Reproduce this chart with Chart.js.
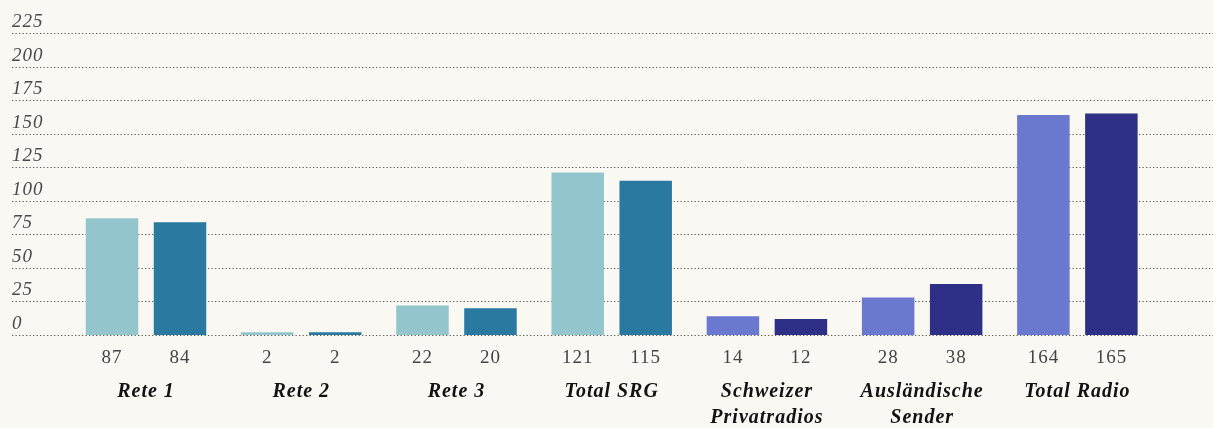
<!doctype html>
<html lang="de">
<head>
<meta charset="utf-8">
<title>Radio – Reichweiten</title>
<script src="https://cdn.jsdelivr.net/npm/chart.js"></script>
<style>
  html, body { margin: 0; padding: 0; background: #f9f8f3; }
  #wrap { width: 1213px; height: 428px; }
</style>
</head>
<body>
<div id="wrap"><canvas id="chart"></canvas></div>
<script>
  // Kategorien und Werte
  const categories = ['Rete 1', 'Rete 2', 'Rete 3', 'Total SRG', ['Schweizer', 'Privatradios'], ['Ausländische', 'Sender'], 'Total Radio'];
  const firstValues = [87, 2, 22, 121, 14, 28, 164];
  const secondValues = [84, 2, 20, 115, 12, 38, 165];
  const yTicks = [0, 25, 50, 75, 100, 125, 150, 175, 200, 225];

  const firstColors = ['#93c5cc', '#93c5cc', '#93c5cc', '#93c5cc', '#6b78cf', '#6b78cf', '#6b78cf'];
  const secondColors = ['#2a79a0', '#2a79a0', '#2a79a0', '#2a79a0', '#2e2f86', '#2e2f86', '#2e2f86'];

  const serif = '"Liberation Serif", "DejaVu Serif", serif';

  // dotted lines at every y tick, running across the whole width
  const dottedGrid = {
    id: 'dottedGrid',
    beforeDraw(chart) {
      chart.ctx.letterSpacing = '1px';
    },
    beforeDatasetsDraw(chart) {
      const ctx = chart.ctx;
      const y = chart.scales.y;
      ctx.save();
      ctx.strokeStyle = '#5c5c5c';
      ctx.lineWidth = 1.2;
      ctx.setLineDash([1.3, 2.2]);
      y.ticks.forEach(t => {
        const py = Math.round(y.getPixelForValue(t.value)) + 0.5;
        ctx.beginPath();
        ctx.moveTo(12, py);
        ctx.lineTo(chart.width, py);
        ctx.stroke();
      });
      ctx.restore();
    }
  };

  // the number under each bar
  const valueLabels = {
    id: 'valueLabels',
    afterDatasetsDraw(chart) {
      const ctx = chart.ctx;
      ctx.save();
      ctx.font = '19px ' + serif;
      ctx.fillStyle = '#444';
      ctx.textAlign = 'center';
      ctx.textBaseline = 'middle';
      chart.data.datasets.forEach((ds, i) => {
        chart.getDatasetMeta(i).data.forEach((bar, j) => {
          ctx.fillText(String(ds.data[j]), bar.x, chart.chartArea.bottom + 23);
        });
      });
      ctx.restore();
    }
  };

  new Chart(document.getElementById('chart'), {
    type: 'bar',
    data: {
      labels: categories,
      datasets: [
        { data: firstValues, backgroundColor: firstColors },
        { data: secondValues, backgroundColor: secondColors }
      ]
    },
    options: {
      responsive: true,
      maintainAspectRatio: false,
      animation: false,
      categoryPercentage: 0.876,
      barPercentage: 0.772,
      layout: { padding: { top: 33, left: 12, right: 58, bottom: 0 } },
      plugins: { legend: { display: false }, tooltip: { enabled: false } },
      scales: {
        x: {
          grid: { display: false, drawTicks: false },
          border: { display: false },
          afterFit: scale => { scale.height = 93; },
          ticks: {
            padding: 44,
            color: '#121212',
            maxRotation: 0,
            autoSkip: false,
            font: { family: serif, size: 20, style: 'italic', weight: 'bold', lineHeight: '26px' }
          }
        },
        y: {
          min: 0,
          max: 225,
          afterBuildTicks: scale => { scale.ticks = yTicks.map(v => ({ value: v })); },
          afterFit: scale => { scale.width = 56.4; },
          grid: { display: false, drawTicks: false },
          border: { display: false },
          ticks: {
            crossAlign: 'far',
            labelOffset: -11,
            color: '#4a4a4a',
            font: { family: serif, size: 19, style: 'italic' }
          }
        }
      }
    },
    plugins: [dottedGrid, valueLabels]
  });
</script>
</body>
</html>
